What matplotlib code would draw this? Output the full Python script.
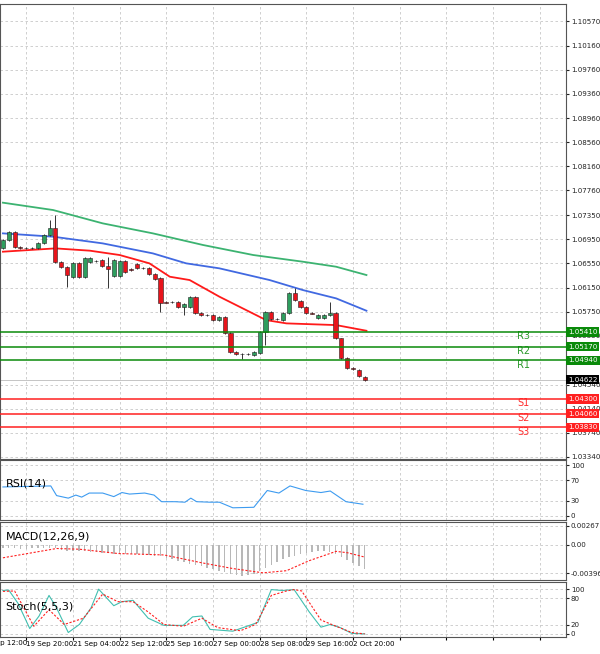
"""EURUSD H4 chart with pivot levels, RSI, MACD and Stochastic panels."""
import numpy as np
import matplotlib
matplotlib.use('Agg')
import matplotlib.pyplot as plt
import matplotlib.transforms as mtrans

# candles (open / close), index = bar number
OPENS = [1.06799, 1.06938, 1.07076, 1.06827, 1.06810, 1.06799, 1.06799, 1.06882, 1.07021, 1.07131,
         1.06578, 1.06484, 1.06329, 1.06551, 1.06329, 1.06578, 1.06595, 1.06606, 1.06506, 1.06340,
         1.06340, 1.06595, 1.06451, 1.06540, 1.06468, 1.06468, 1.06374, 1.06302, 1.05904, 1.05915,
         1.05904, 1.05832, 1.05832, 1.05998, 1.05721, 1.05693, 1.05693, 1.05610, 1.05655, 1.05389,
         1.05085, 1.05047, 1.05047, 1.05030, 1.05058, 1.05417, 1.05749, 1.05622, 1.05610, 1.05732,
         1.06053, 1.05931, 1.05832, 1.05721, 1.05638, 1.05638, 1.05693, 1.05721, 1.05306, 1.04975,
         1.04809, 1.04781, 1.04671]
CLOSES = [1.06938, 1.07076, 1.06827, 1.06810, 1.06799, 1.06805, 1.06882, 1.07021, 1.07131, 1.06578,
          1.06484, 1.06357, 1.06551, 1.06329, 1.06633, 1.06633, 1.06589, 1.06506, 1.06451, 1.06606,
          1.06595, 1.06412, 1.06445, 1.06468, 1.06472, 1.06374, 1.06285, 1.05887, 1.05900, 1.05910,
          1.05832, 1.05876, 1.05998, 1.05721, 1.05693, 1.05690, 1.05610, 1.05655, 1.05389, 1.05085,
          1.05041, 1.05044, 1.05050, 1.05085, 1.05417, 1.05749, 1.05622, 1.05625, 1.05732, 1.06053,
          1.05942, 1.05832, 1.05721, 1.05718, 1.05693, 1.05693, 1.05721, 1.05306, 1.04975, 1.04809,
          1.04798, 1.04682, 1.04622]
# long wicks (bar index -> price)
HIGH_WICKS = {8: 1.07264, 9: 1.07353, 18: 1.06661, 50: 1.06136, 56: 1.05915}
LOW_WICKS = {11: 1.06163, 18: 1.06135, 27: 1.05749, 31: 1.05693, 45: 1.05196, 41: 1.04960}

# moving averages (bar index, price)
MA_RED_X = [0, 9, 14.9, 20, 25.1, 28.6, 32, 37.1, 41.1, 45.1, 48.6, 57.1, 62.3]
MA_RED_Y = [1.06744, 1.06799, 1.06761, 1.06689, 1.06551, 1.06329, 1.06274, 1.05998, 1.05804,
            1.05610, 1.05555, 1.05527, 1.05433]
MA_BLUE_X = [0, 8.6, 17.1, 25.7, 31.4, 37.1, 45.7, 51.4, 57.1, 62.3]
MA_BLUE_Y = [1.07048, 1.06993, 1.06882, 1.06716, 1.06551, 1.06468, 1.06274, 1.06108, 1.05970, 1.05765]
MA_GREEN_X = [0, 8.6, 17.1, 25.7, 34.3, 42.9, 51.4, 57.1, 62.3]
MA_GREEN_Y = [1.07557, 1.07435, 1.07214, 1.07048, 1.06855, 1.06689, 1.06578, 1.06495, 1.06357]

RES_LEVELS = [1.05410, 1.05170, 1.04940]
RES_NAMES = ['R3', 'R2', 'R1']
SUP_LEVELS = [1.04300, 1.04060, 1.03830]
SUP_NAMES = ['S1', 'S2', 'S3']
LAST_PRICE = 1.04622

PRICE_TICKS = [1.10570, 1.10160, 1.09760, 1.09360, 1.08960, 1.08560, 1.08160, 1.07760,
               1.07350, 1.06950, 1.06550, 1.06150, 1.05750, 1.05350, 1.04540, 1.04140,
               1.03740, 1.03340]

RSI_X = [0, 8.2, 9.2, 11.2, 12.5, 13.5, 14.8, 17.1, 19, 20.4, 21.7, 24.3, 25.9, 27.2, 29.5,
         31.2, 32.2, 33.2, 35.5, 37.1, 39.4, 43, 45.3, 47.3, 49.2, 51.9, 54.5, 56.1, 58.8, 61.7]
RSI_Y = [57, 59, 40, 35, 41, 37, 45, 45, 38, 46, 43, 45, 41, 28, 28, 27, 35, 28, 27, 27, 16,
         17, 50, 45, 59, 50, 46, 49, 28, 23]

MACD_HIST = [-0.0004, -0.0005, -0.0005, -0.0006, -0.0006, -0.0005, -0.0005, -0.0004, -0.0004,
             -0.0005, -0.0007, -0.0008, -0.0008, -0.0009, -0.0009, -0.0010, -0.0010, -0.0011,
             -0.0011, -0.0012, -0.0012, -0.0012, -0.0013, -0.0013, -0.0013, -0.0014, -0.0015,
             -0.0016, -0.0018, -0.0020, -0.0022, -0.0024, -0.0026, -0.0028, -0.0030, -0.0032,
             -0.0034, -0.0036, -0.0038, -0.0040, -0.0042, -0.0043, -0.0042, -0.0040, -0.0036,
             -0.0032, -0.0028, -0.0024, -0.0020, -0.0017, -0.0015, -0.0013, -0.0011, -0.0010,
             -0.0009, -0.0009, -0.0010, -0.0013, -0.0017, -0.0021, -0.0025, -0.0030, -0.0034]
MACD_SIG_X = [0, 9.2, 13.1, 19.7, 27.6, 34.1, 39.4, 44.6, 48.6, 52.5, 57.1, 59.1, 62]
MACD_SIG_Y = [-0.0018, -0.0005, -0.0006, -0.0012, -0.0014, -0.0025, -0.0033, -0.0039,
              -0.0036, -0.0022, -0.0009, -0.0011, -0.0017]

STOCH_X = [0, 1, 2.6, 4.6, 6.2, 7.9, 9.2, 11.2, 13.1, 15.1, 16.4, 19, 20.4, 22.3, 24.9, 27.6,
           30.9, 32.5, 34.1, 35.5, 39.4, 42.7, 43.7, 46, 47.9, 49.9, 52.5, 54.5, 56.1, 57.8,
           59.8, 62]
STOCH_K = [97, 98, 68, 12, 40, 86, 58, 3, 21, 58, 100, 63, 72, 75, 35, 19, 19, 38, 40, 10, 6,
           21, 26, 99, 97, 99, 49, 15, 21, 14, 1, 0]
STOCH_SIG_X = [0, 2, 5.3, 7.9, 10.5, 13.8, 17.1, 19.7, 22.3, 24.9, 27.6, 30.9, 34.1, 36.8,
               40.7, 43.3, 46, 48.6, 49.9, 51.2, 54.5, 57.1, 59.8, 62]
STOCH_D = [95, 96, 17, 54, 21, 35, 89, 72, 72, 49, 21, 17, 35, 14, 7, 21, 86, 96, 99, 96, 31,
           17, 3, 0]

X_TICKS = [4, 12, 20, 28, 36, 44, 52, 60, 68, 76, 84, 92]
X_LABELS = ['19 Sep 20:00', '21 Sep 04:00', '22 Sep 12:00', '25 Sep 16:00',
            '27 Sep 00:00', '28 Sep 08:00', '29 Sep 16:00', '2 Oct 20:00', '', '', '', '']
FIRST_LABEL_X = -4
FIRST_LABEL = '19 Sep 12:00'

XLIM = (-0.5, 96.5)
FS = 5.1
GRID = dict(color='#c8c8c8', linestyle=(0, (3, 3)), linewidth=0.6)


def style_axis(ax, yticks, ylabels, ylim):
    """Shared look of every panel, applied after plotting."""
    ax.yaxis.tick_right()
    ax.set_yticks(yticks)
    ax.set_yticklabels(ylabels, fontsize=FS)
    ax.tick_params(axis='y', length=2, pad=1.5, colors='#222222')
    ax.set_xticks(X_TICKS)
    ax.tick_params(axis='x', length=0, labelbottom=False)
    ax.set_xlim(*XLIM)
    ax.set_ylim(*ylim)
    ax.grid(True, **GRID)
    ax.set_axisbelow(True)
    for spine in ax.spines.values():
        spine.set_color('#555555')
        spine.set_linewidth(0.8)


fig = plt.figure(figsize=(6, 6.54), dpi=100)
W = 566 / 600
ax = fig.add_axes([0.0, 1 - 459 / 654, W, 455 / 654])
ax_rsi = fig.add_axes([0.0, 1 - 520 / 654, W, 60 / 654])
ax_macd = fig.add_axes([0.0, 1 - 580 / 654, W, 58 / 654])
ax_sto = fig.add_axes([0.0, 1 - 637 / 654, W, 55 / 654])

# price panel
for i, (o, c) in enumerate(zip(OPENS, CLOSES)):
    hi = HIGH_WICKS.get(i, max(o, c) + 0.00015)
    lo = LOW_WICKS.get(i, min(o, c) - 0.00015)
    ax.vlines(i, lo, hi, color='#333333', linewidth=0.7, zorder=3)
    color = '#2e9e5e' if c >= o else '#e8141c'
    body = max(abs(c - o), 0.00004)
    ax.bar(i, body, bottom=min(o, c), width=0.7, color=color,
           edgecolor='#222222', linewidth=0.4, zorder=4)
ax.plot(MA_GREEN_X, MA_GREEN_Y, color='#3cb371', linewidth=1.3, zorder=2)
ax.plot(MA_BLUE_X, MA_BLUE_Y, color='#4169e1', linewidth=1.3, zorder=2)
ax.plot(MA_RED_X, MA_RED_Y, color='#ff1a1a', linewidth=1.3, zorder=2)
style_axis(ax, PRICE_TICKS, [f'{t:.5f}' for t in PRICE_TICKS], (1.03306, 1.10852))

blend = mtrans.blended_transform_factory(ax.transAxes, ax.transData)
box_kw = dict(transform=blend, fontsize=FS, color='white', va='center', ha='left',
              clip_on=False, zorder=10)
for lvl, name in zip(RES_LEVELS, RES_NAMES):
    ax.axhline(lvl, color='#0a8a0a', linewidth=1.1, zorder=5)
    ax.text(89.3, lvl - 0.0007, name, color='#2e9a2e', fontsize=7, ha='center', va='center')
    ax.text(1.004, lvl, f'{lvl:.5f}', **box_kw,
            bbox=dict(boxstyle='square,pad=0.25', fc='#0a8a0a', ec='none'))
for lvl, name in zip(SUP_LEVELS, SUP_NAMES):
    ax.axhline(lvl, color='#ff2020', linewidth=1.1, zorder=5)
    ax.text(89.3, lvl - 0.0007, name, color='#ff3030', fontsize=7, ha='center', va='center')
    ax.text(1.004, lvl, f'{lvl:.5f}', **box_kw,
            bbox=dict(boxstyle='square,pad=0.25', fc='#ff2020', ec='none'))
ax.axhline(LAST_PRICE, color='#bbbbbb', linewidth=0.6, zorder=1)
ax.text(1.004, LAST_PRICE, f'{LAST_PRICE:.5f}', **box_kw,
        bbox=dict(boxstyle='square,pad=0.25', fc='black', ec='none'))

# RSI
ax_rsi.plot(RSI_X, RSI_Y, color='#3d9bf0', linewidth=0.8)
ax_rsi.text(0.01, 0.6, 'RSI(14)', transform=ax_rsi.transAxes, fontsize=8, va='center')
style_axis(ax_rsi, [0, 30, 70, 100], ['0', '30', '70', '100'], (-8, 110))

# MACD
ax_macd.bar(range(len(MACD_HIST)), MACD_HIST, width=0.25, color='#b8b8b8')
ax_macd.plot(MACD_SIG_X, MACD_SIG_Y, color='#ff2020', linewidth=0.8, linestyle=(0, (2, 1.5)))
ax_macd.text(0.01, 0.75, 'MACD(12,26,9)', transform=ax_macd.transAxes, fontsize=8, va='center')
style_axis(ax_macd, [0.002671, 0.0, -0.003966], ['0.002671', '0.00', '-0.003966'],
           (-0.0049, 0.0032))

# Stochastic
ax_sto.plot(STOCH_X, STOCH_K, color='#40bfb0', linewidth=0.8)
ax_sto.plot(STOCH_SIG_X, STOCH_D, color='#ff2020', linewidth=0.8, linestyle=(0, (2, 1.5)))
ax_sto.text(0.01, 0.55, 'Stoch(5,5,3)', transform=ax_sto.transAxes, fontsize=8, va='center')
style_axis(ax_sto, [0, 20, 80, 100], ['0', '20', '80', '100'], (-7, 116))
ax_sto.tick_params(axis='x', labelbottom=True, length=2, pad=1)
ax_sto.set_xticklabels(X_LABELS, fontsize=FS, ha='left')
ax_sto.set_xlim(*XLIM)
xblend = mtrans.blended_transform_factory(ax_sto.transData, ax_sto.transAxes)
ax_sto.text(FIRST_LABEL_X, -0.05, FIRST_LABEL, transform=xblend, fontsize=FS, ha='left',
            va='top', clip_on=False)

fig.savefig('out.png', dpi=100)
